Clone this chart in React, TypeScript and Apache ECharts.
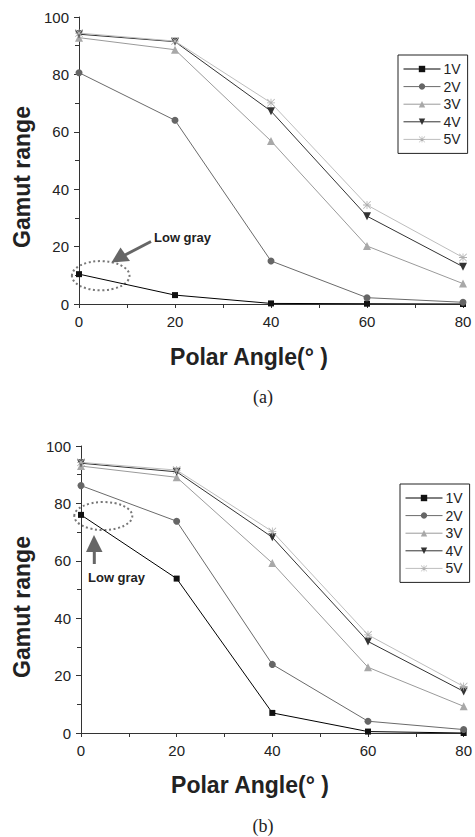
import React, { useEffect, useRef } from "react";
import * as echarts from "echarts";

const angles = [0, 20, 40, 60, 80];
const seriesNames = ["1V", "2V", "3V", "4V", "5V"];

// Chart (a)
const a1V = [10.4, 3.1, 0.2, 0.1, 0.0];
const a2V = [80.6, 64.0, 15.0, 2.2, 0.6];
const a3V = [92.8, 88.6, 56.8, 20.2, 7.1];
const a4V = [94.0, 91.4, 67.2, 30.6, 13.0];
const a5V = [94.4, 91.6, 70.1, 34.5, 16.2];

// Chart (b)
const b1V = [76.0, 53.8, 7.0, 0.5, 0.0];
const b2V = [86.2, 73.8, 23.9, 4.1, 1.2];
const b3V = [93.0, 89.1, 59.2, 22.9, 9.3];
const b4V = [94.0, 91.0, 68.2, 31.9, 14.5];
const b5V = [94.3, 91.6, 70.2, 34.2, 16.2];

const yTitle = "Gamut range";
const xTitle = "Polar Angle(° )";
const annotation = "Low gray";
const captions = ["(a)", "(b)"];

const SANS = "'Liberation Sans', Arial, Helvetica, sans-serif";
const SERIF = "'Liberation Serif', 'Times New Roman', serif";

const ASTERISK =
  "path://M9 0L11 0L11 20L9 20Z M0 9L20 9L20 11L0 11Z M1.4 0L20 18.6L18.6 20L0 1.4Z M18.6 0L20 1.4L1.4 20L0 18.6Z";

const styles = [
  { symbol: "rect", rotate: 0, line: "#000000", mark: "#111111", size: 6 },
  { symbol: "circle", rotate: 0, line: "#6a6a6a", mark: "#666666", size: 7 },
  { symbol: "triangle", rotate: 0, line: "#9a9a9a", mark: "#a8a8a8", size: 8 },
  { symbol: "triangle", rotate: 180, line: "#333333", mark: "#333333", size: 8 },
  { symbol: ASTERISK, rotate: 0, line: "#bdbdbd", mark: "#b0b0b0", size: 8 },
];

export default function App() {
  const ref = useRef<HTMLDivElement>(null);

  useEffect(() => {
    document.body.style.margin = "0";
    if (!ref.current) return;
    const chart = echarts.init(ref.current, undefined, { renderer: "svg" });

    const dataA = [a1V, a2V, a3V, a4V, a5V];
    const dataB = [b1V, b2V, b3V, b4V, b5V];

    const makeSeries = (vals: number[][], idx: number) =>
      vals.map((v, i) => ({
        name: seriesNames[i],
        type: "line",
        xAxisIndex: idx,
        yAxisIndex: idx,
        data: angles.map((x, k) => [x, v[k]]),
        symbol: styles[i].symbol,
        symbolRotate: styles[i].rotate,
        symbolSize: styles[i].size,
        showAllSymbol: true,
        lineStyle: { color: styles[i].line, width: 1 },
        itemStyle: { color: styles[i].mark },
        emphasis: { disabled: true },
      }));

    const axisText = { color: "#222", fontSize: 15, fontFamily: SANS };

    const makeX = (gi: number) => ({
      type: "value",
      gridIndex: gi,
      min: 0,
      max: 80,
      interval: 20,
      axisLine: { show: true, lineStyle: { color: "#333", width: 1 } },
      axisTick: { show: true, length: 4, lineStyle: { color: "#333" } },
      minorTick: { show: true, splitNumber: 2, length: 4, lineStyle: { color: "#333" } },
      splitLine: { show: false },
      axisLabel: { ...axisText, margin: 10 },
    });
    const makeY = (gi: number) => ({
      type: "value",
      gridIndex: gi,
      min: 0,
      max: 100,
      interval: 20,
      axisLine: { show: true, lineStyle: { color: "#333", width: 1 } },
      axisTick: { show: true, length: 5, lineStyle: { color: "#333" } },
      minorTick: { show: true, splitNumber: 2, length: 4, lineStyle: { color: "#333" } },
      splitLine: { show: false },
      axisLabel: { ...axisText, margin: 10 },
    });

    const makeLegend = (left: number, top: number) => ({
      orient: "vertical",
      left,
      top,
      data: seriesNames,
      itemWidth: 37,
      itemHeight: 8,
      itemGap: 3.6,
      padding: [7, 7, 7, 5],
      borderColor: "#222",
      borderWidth: 1,
      selectedMode: false,
      lineStyle: { width: 1 },
      textStyle: {
        color: "#222",
        fontSize: 14,
        lineHeight: 14,
        fontFamily: SANS,
        padding: [0, 0, 0, -2],
      },
    });

    const bold = (text: string, x: number, y: number, size: number, rotation = 0) => ({
      type: "text",
      x,
      y,
      rotation,
      style: {
        text,
        fill: "#222",
        font: `bold ${size}px ${SANS}`,
        align: "center",
        verticalAlign: "middle",
      },
    });

    const graphic: any[] = [
      // axis titles
      bold(yTitle, 22, 177, 23, Math.PI / 2),
      bold(xTitle, 249, 357, 23),
      bold(yTitle, 22, 607, 23, Math.PI / 2),
      bold(xTitle, 250, 785, 23),
      // captions
      {
        type: "text",
        x: 263,
        y: 397,
        style: { text: captions[0], fill: "#222", font: `18px ${SERIF}`, align: "center", verticalAlign: "middle" },
      },
      {
        type: "text",
        x: 263,
        y: 826,
        style: { text: captions[1], fill: "#222", font: `18px ${SERIF}`, align: "center", verticalAlign: "middle" },
      },
      // top annotation
      {
        type: "ellipse",
        shape: { cx: 100.7, cy: 275.7, rx: 28.8, ry: 14.6 },
        style: { fill: "none", stroke: "#777", lineWidth: 2, lineDash: [2, 2.6] },
      },
      {
        type: "line",
        shape: { x1: 151, y1: 241.5, x2: 124, y2: 255.5 },
        style: { stroke: "#666", lineWidth: 3 },
      },
      {
        type: "polygon",
        shape: { points: [[111.5, 262.5], [120.5, 247.5], [130, 261]] },
        style: { fill: "#666" },
      },
      {
        type: "text",
        x: 154,
        y: 237,
        style: { text: annotation, fill: "#222", font: `bold 13px ${SANS}`, align: "left", verticalAlign: "middle" },
      },
      // bottom annotation
      {
        type: "ellipse",
        shape: { cx: 103.3, cy: 516, rx: 29, ry: 14 },
        style: { fill: "none", stroke: "#777", lineWidth: 2, lineDash: [2, 2.6] },
      },
      {
        type: "line",
        shape: { x1: 94.3, y1: 564, x2: 94.3, y2: 550 },
        style: { stroke: "#666", lineWidth: 3 },
      },
      {
        type: "polygon",
        shape: { points: [[94, 535], [86, 552], [102.5, 552]] },
        style: { fill: "#666" },
      },
      {
        type: "text",
        x: 88,
        y: 577,
        style: { text: annotation, fill: "#222", font: `bold 13px ${SANS}`, align: "left", verticalAlign: "middle" },
      },
    ];

    chart.setOption({
      animation: false,
      backgroundColor: "#ffffff",
      grid: [
        { left: 79, top: 17, width: 384, height: 287 },
        { left: 81, top: 446, width: 384, height: 287 },
      ],
      xAxis: [makeX(0), makeX(1)],
      yAxis: [makeY(0), makeY(1)],
      legend: [makeLegend(398, 55), makeLegend(400, 484)],
      series: [...makeSeries(dataA, 0), ...makeSeries(dataB, 1)],
      graphic,
    } as any);

    return () => chart.dispose();
  }, []);

  return <div ref={ref} style={{ width: 475, height: 837 }} />;
}
